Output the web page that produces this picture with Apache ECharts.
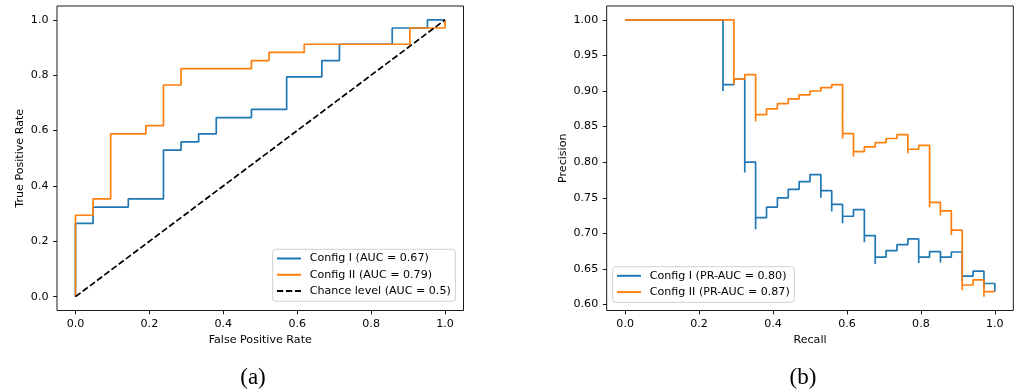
<!DOCTYPE html>
<html>
<head>
<meta charset="utf-8">
<script src="https://cdn.jsdelivr.net/npm/echarts@6/dist/echarts.min.js"></script>
<style>
  html, body { margin: 0; padding: 0; background: #fff; }
  #chart { width: 1020px; height: 392px; }
</style>
</head>
<body>
<div id="chart"></div>
<script>
// ---------- DATA ----------
// ROC curves (corners of the step curve; drawn with vertical-first steps)
const roc1Fpr = [0, 0.0476, 0.1429, 0.2381, 0.2857, 0.3333, 0.3810, 0.4762, 0.5714, 0.6667, 0.7143, 0.8571, 0.9524, 1];
const roc1Tpr = [0, 0.2647, 0.3235, 0.3529, 0.5294, 0.5588, 0.5882, 0.6471, 0.6765, 0.7941, 0.8529, 0.9118, 0.9706, 1];
const roc2Fpr = [0, 0.0476, 0.0952, 0.1905, 0.2381, 0.2857, 0.4762, 0.5238, 0.6190, 0.9048, 1, 1];
const roc2Tpr = [0, 0.2941, 0.3529, 0.5882, 0.6176, 0.7647, 0.8235, 0.8529, 0.8824, 0.9118, 0.9706, 1];
const chanceFpr = [0, 1];
const chanceTpr = [0, 1];

// Precision-recall curves (ascending recall)
const pr1Recall = [0, 0.2647, 0.2647, 0.2941, 0.3235, 0.3235, 0.3529, 0.3529, 0.3824, 0.4118, 0.4412, 0.4706, 0.5, 0.5294, 0.5294, 0.5588, 0.5588, 0.5882, 0.5882, 0.6176, 0.6471, 0.6471, 0.6765, 0.6765, 0.7059, 0.7353, 0.7647, 0.7941, 0.7941, 0.8235, 0.8529, 0.8529, 0.8824, 0.9118, 0.9118, 0.9412, 0.9706, 0.9706, 1, 1];
const pr1Precision = [1, 1, 0.9, 0.9091, 0.9167, 0.7857, 0.8, 0.7059, 0.7222, 0.7368, 0.75, 0.7619, 0.7727, 0.7826, 0.75, 0.76, 0.7308, 0.7407, 0.7143, 0.7241, 0.7333, 0.6875, 0.6970, 0.6571, 0.6667, 0.6757, 0.6842, 0.6923, 0.6585, 0.6667, 0.6744, 0.6591, 0.6667, 0.6739, 0.6327, 0.64, 0.6471, 0.6226, 0.6296, 0.6182];
const pr2Recall = [0, 0.2941, 0.2941, 0.3235, 0.3529, 0.3529, 0.3824, 0.4118, 0.4412, 0.4706, 0.5, 0.5294, 0.5588, 0.5882, 0.5882, 0.6176, 0.6176, 0.6471, 0.6765, 0.7059, 0.7353, 0.7647, 0.7647, 0.7941, 0.8235, 0.8235, 0.8529, 0.8529, 0.8824, 0.8824, 0.9118, 0.9118, 0.9412, 0.9706, 0.9706, 1];
const pr2Precision = [1, 1, 0.9091, 0.9167, 0.9231, 0.8571, 0.8667, 0.875, 0.8824, 0.8889, 0.8947, 0.9, 0.9048, 0.9091, 0.8333, 0.84, 0.8077, 0.8148, 0.8214, 0.8276, 0.8333, 0.8387, 0.8125, 0.8182, 0.8235, 0.7368, 0.7436, 0.725, 0.7317, 0.6977, 0.7045, 0.62, 0.6275, 0.6346, 0.6111, 0.6182];

// Labels
const rocNames = ['Config I (AUC = 0.67)', 'Config II (AUC = 0.79)', 'Chance level (AUC = 0.5)'];
const prNames = ['Config I (PR-AUC = 0.80)', 'Config II (PR-AUC = 0.87)'];
const rocTicks = [0, 0.2, 0.4, 0.6, 0.8, 1.0];
const recallTicks = [0, 0.2, 0.4, 0.6, 0.8, 1.0];
const precisionTicks = [0.60, 0.65, 0.70, 0.75, 0.80, 0.85, 0.90, 0.95, 1.00];
const captions = ['(a)', '(b)'];
const axisTitles = { rocX: 'False Positive Rate', rocY: 'True Positive Rate', prX: 'Recall', prY: 'Precision' };

// ---------- CHART ----------
const FONT = 'DejaVu Sans';
const FS = 11.1;
const BLUE = '#1f77b4', ORANGE = '#ff7f0e';
const zip = (a, b) => a.map((v, i) => [v, b[i]]);

function valAxis(gridIndex, ticks, digits, min, max, name, nameGap, pos) {
  return {
    type: 'value', gridIndex, min, max, position: pos,
    name, nameLocation: 'middle', nameGap,
    nameTextStyle: { fontFamily: FONT, fontSize: FS, color: '#000' },
    axisLine: { show: false, onZero: false },
    splitLine: { show: false },
    axisTick: { show: true, inside: false, length: 3.9, customValues: ticks, lineStyle: { color: '#000', width: 0.9 } },
    axisLabel: { show: true, customValues: ticks, margin: pos === 'bottom' ? 8 : 8.5,
      formatter: v => Number(v).toFixed(digits), fontFamily: FONT, fontSize: FS, color: '#000' }
  };
}

const lineBase = { type: 'line', showSymbol: false, symbol: 'none', animation: false, silent: true };

const legendCommon = {
  orient: 'vertical', itemWidth: 24, itemHeight: 12, itemGap: 5.3,
  borderColor: '#cccccc', borderWidth: 0.9, borderRadius: 3,
  backgroundColor: 'rgba(255,255,255,0.8)',
  itemStyle: { opacity: 0 },
  lineStyle: { opacity: 1 },
  textStyle: { fontFamily: FONT, fontSize: FS, color: '#000', padding: [0, 0, 0, 3.7] },
  selectedMode: false
};

const option = {
  animation: false,
  grid: [
    { left: 57, top: 6, width: 406.5, height: 304.5, show: true, borderColor: '#000', borderWidth: 0.9, backgroundColor: 'transparent' },
    { left: 606.7, top: 6, width: 406.6, height: 304.5, show: true, borderColor: '#000', borderWidth: 0.9, backgroundColor: 'transparent' }
  ],
  xAxis: [
    valAxis(0, rocTicks, 1, -0.05, 1.05, axisTitles.rocX, 23, 'bottom'),
    valAxis(1, recallTicks, 1, -0.05, 1.05, axisTitles.prX, 23, 'bottom')
  ],
  yAxis: [
    valAxis(0, rocTicks, 1, -0.05, 1.05, axisTitles.rocY, 31, 'left'),
    valAxis(1, precisionTicks, 2, 0.5917, 1.0194, axisTitles.prY, 38, 'left')
  ],
  legend: [
    Object.assign({}, legendCommon, { left: 272.7, top: 249.3, padding: [3.7, 4.6, 4.7, 3.3], data: rocNames }),
    Object.assign({}, legendCommon, { left: 612.7, top: 266.7, padding: [3.6, 4.6, 4.7, 3.3], data: prNames })
  ],
  series: [
    Object.assign({}, lineBase, { name: rocNames[0], xAxisIndex: 0, yAxisIndex: 0, step: 'start',
      data: zip(roc1Fpr, roc1Tpr), lineStyle: { color: BLUE, width: 1.7 }, itemStyle: { color: BLUE } }),
    Object.assign({}, lineBase, { name: rocNames[1], xAxisIndex: 0, yAxisIndex: 0, step: 'start',
      data: zip(roc2Fpr, roc2Tpr), lineStyle: { color: ORANGE, width: 1.7 }, itemStyle: { color: ORANGE } }),
    Object.assign({}, lineBase, { name: rocNames[2], xAxisIndex: 0, yAxisIndex: 0,
      data: zip(chanceFpr, chanceTpr), lineStyle: { color: '#000', width: 1.7, type: [6.3, 2.7] }, itemStyle: { color: '#000' } }),
    Object.assign({}, lineBase, { name: prNames[0], xAxisIndex: 1, yAxisIndex: 1, step: 'start',
      data: zip(pr1Recall, pr1Precision), lineStyle: { color: BLUE, width: 1.7 }, itemStyle: { color: BLUE } }),
    Object.assign({}, lineBase, { name: prNames[1], xAxisIndex: 1, yAxisIndex: 1, step: 'start',
      data: zip(pr2Recall, pr2Precision), lineStyle: { color: ORANGE, width: 1.7 }, itemStyle: { color: ORANGE } })
  ],
  graphic: [
    { type: 'text', x: 253, y: 378, style: { text: captions[0], font: '23px "Liberation Serif"', align: 'center', verticalAlign: 'middle', fill: '#000' } },
    { type: 'text', x: 803, y: 378, style: { text: captions[1], font: '23px "Liberation Serif"', align: 'center', verticalAlign: 'middle', fill: '#000' } }
  ]
};

const chart = echarts.init(document.getElementById('chart'), null, { renderer: 'canvas' });
chart.setOption(option);
</script>
</body>
</html>
